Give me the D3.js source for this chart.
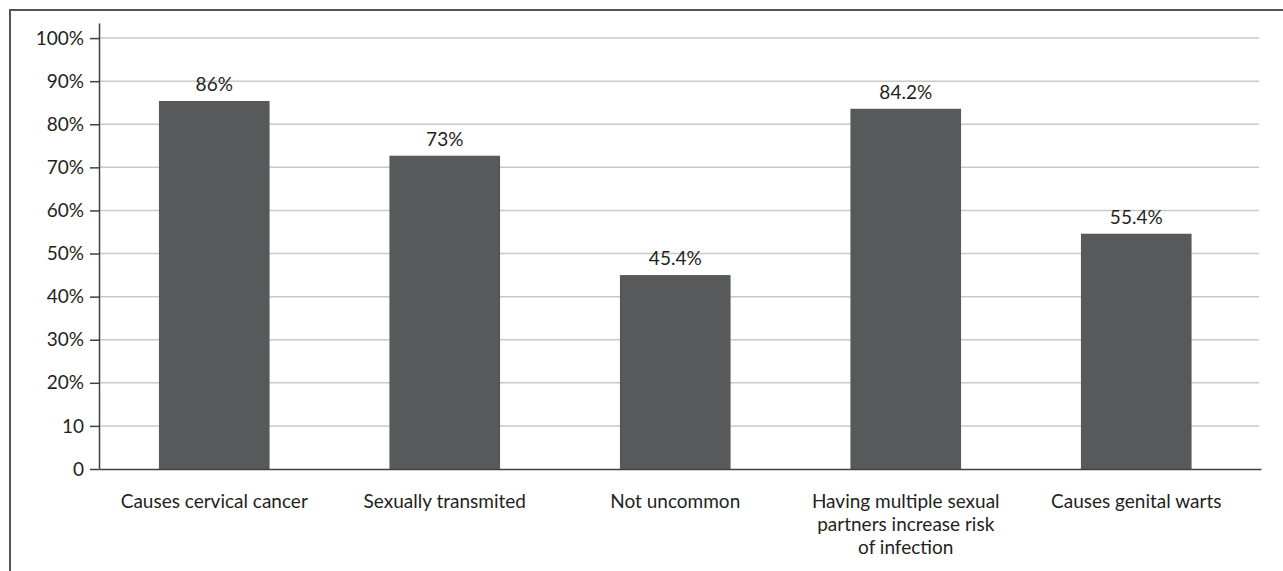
<!DOCTYPE html>
<html>
<head>
<meta charset="utf-8">
<script src="https://cdn.jsdelivr.net/npm/d3@7"></script>
<style>
  html, body { margin: 0; padding: 0; background: #fff; }
  svg { display: block; }
  text { font-family: Lato, "Open Sans", sans-serif; fill: #231f20; }
</style>
</head>
<body>
<svg id="chart" width="1283" height="571"></svg>
<script>
// ---- data ----
const categories = [
  "Causes cervical cancer",
  "Sexually transmited",
  "Not uncommon",
  "Having multiple sexual partners increase risk of infection",
  "Causes genital warts"
];
const categoryLines = [
  ["Causes cervical cancer"],
  ["Sexually transmited"],
  ["Not uncommon"],
  ["Having multiple sexual", "partners increase risk", "of infection"],
  ["Causes genital warts"]
];
const values = [85.4, 72.7, 45.0, 83.6, 54.6];
const valueLabels = ["86%", "73%", "45.4%", "84.2%", "55.4%"];
const yTickValues = [0, 10, 20, 30, 40, 50, 60, 70, 80, 90, 100];
const yTickLabels = ["0", "10", "20%", "30%", "40%", "50%", "60%", "70%", "80%", "90%", "100%"];

// ---- layout ----
const svg = d3.select("#chart");
const plotLeft = 99, plotRight = 1251.5, gridRight = 1259, axisRight = 1261;
const baseY = 469, topY = 23;
const fontSize = 19;

const x = d3.scaleBand()
  .domain(categories)
  .range([plotLeft, plotRight])
  .paddingInner(0.52)
  .paddingOuter(0.26);

const y = d3.scaleLinear().domain([0, 103.5]).range([baseY, topY]);

// outer frame
svg.append("rect")
  .attr("x", 10).attr("y", 10)
  .attr("width", 1400).attr("height", 700)
  .attr("fill", "none")
  .attr("stroke", "#555555")
  .attr("stroke-width", 2);

// gridlines
svg.append("g")
  .selectAll("line")
  .data(yTickValues.filter(d => d > 0))
  .join("line")
  .attr("x1", plotLeft).attr("x2", gridRight)
  .attr("y1", d => y(d)).attr("y2", d => y(d))
  .attr("stroke", "#c8c8c8")
  .attr("stroke-width", 1.5);

// bars
svg.append("g")
  .selectAll("rect")
  .data(values)
  .join("rect")
  .attr("x", (d, i) => x(categories[i]))
  .attr("width", x.bandwidth())
  .attr("y", d => y(d))
  .attr("height", d => y(0) - y(d))
  .attr("fill", "#58595b");

// value labels
svg.append("g")
  .selectAll("text")
  .data(values)
  .join("text")
  .attr("x", (d, i) => x(categories[i]) + x.bandwidth() / 2)
  .attr("y", d => y(d) - 10)
  .attr("text-anchor", "middle")
  .style("font-size", fontSize + "px")
  .text((d, i) => valueLabels[i]);

// y axis
const yAxis = d3.axisLeft(y)
  .tickValues(yTickValues)
  .tickFormat((d, i) => yTickLabels[i])
  .tickSize(9)
  .tickSizeOuter(0)
  .tickPadding(6);

const yg = svg.append("g")
  .attr("transform", `translate(${plotLeft},0)`)
  .call(yAxis);
yg.select(".domain").attr("stroke", "#404040").attr("stroke-width", 1.5);
yg.selectAll(".tick line").attr("stroke", "#404040").attr("stroke-width", 1.5);
yg.selectAll(".tick text")
  .style("font-size", fontSize + "px")
  .style("font-family", "Lato, 'Open Sans', sans-serif")
  .attr("fill", "#231f20");

// x axis baseline
const xAxisScale = d3.scaleLinear().domain([0, 1]).range([plotLeft, axisRight]);
const xg = svg.append("g")
  .attr("transform", `translate(0,${baseY})`)
  .call(d3.axisBottom(xAxisScale).tickValues([]).tickSizeOuter(0));
xg.select(".domain").attr("stroke", "#404040").attr("stroke-width", 1.5);

// category labels
const catG = svg.append("g");
categories.forEach((c, i) => {
  const t = catG.append("text")
    .attr("x", x(c) + x.bandwidth() / 2)
    .attr("y", baseY + 39)
    .attr("text-anchor", "middle")
    .style("font-size", fontSize + "px");
  categoryLines[i].forEach((line, j) => {
    t.append("tspan")
      .attr("x", x(c) + x.bandwidth() / 2)
      .attr("dy", j === 0 ? 0 : 23)
      .text(line);
  });
});
</script>
</body>
</html>
